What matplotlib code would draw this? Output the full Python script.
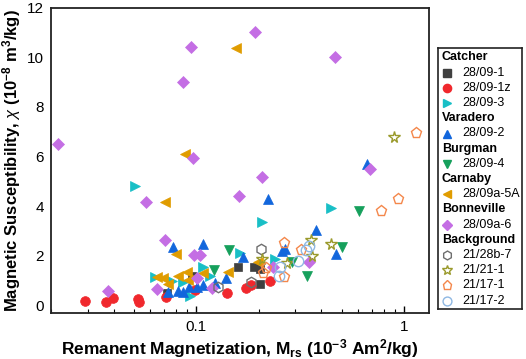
import numpy as np
import matplotlib
matplotlib.use("Agg")
import matplotlib.pyplot as plt
from matplotlib.ticker import LogLocator, NullFormatter, FixedLocator, FixedFormatter

plt.rcParams['font.family'] = ['Liberation Sans', 'DejaVu Sans']
plt.rcParams['mathtext.fontset'] = 'custom'
plt.rcParams['mathtext.rm'] = 'Liberation Sans'
plt.rcParams['mathtext.it'] = 'Liberation Sans:italic'
plt.rcParams['mathtext.bf'] = 'Liberation Sans:bold'

# Catcher
c1_x = [0.158, 0.190, 0.203, 0.203, 0.0957, 0.0725]
c1_y = [1.54, 1.54, 1.45, 0.85, 1.17, 0.48]
c1z_x = [0.0293, 0.0369, 0.0399, 0.0526, 0.0532, 0.0718, 0.0989, 0.141, 0.174, 0.184, 0.227]
c1z_y = [0.16, 0.12, 0.28, 0.24, 0.12, 0.32, 0.61, 0.48, 0.69, 0.81, 0.97]
c3_x = [0.0509, 0.207, 0.446, 0.163, 0.240, 0.0635, 0.108, 0.117, 0.0936, 0.0767, 0.0866]
c3_y = [4.81, 3.35, 3.92, 2.10, 1.86, 1.13, 1.54, 1.17, 0.36, 0.97, 0.93]
# Varadero
v_x = [0.66, 0.222, 0.377, 0.259, 0.268, 0.168, 0.47, 0.108, 0.139, 0.0775,
       0.0734, 0.0819, 0.0926, 0.108, 0.123, 0.086, 0.101]
v_y = [5.70, 4.28, 3.03, 2.18, 2.26, 1.94, 2.06, 2.46, 1.09, 2.34,
       0.53, 0.57, 0.73, 0.81, 0.89, 0.53, 0.73]
# Burgman
b_x = [0.144, 0.121, 0.289, 0.341, 0.503, 0.608]
b_y = [2.22, 1.41, 1.74, 1.17, 2.34, 3.80]
# Carnaby
cn_x = [0.156, 0.0885, 0.0710, 0.0801, 0.0650, 0.0694, 0.0734, 0.0819, 0.0905, 0.0915, 0.108, 0.142, 0.197]
cn_y = [10.38, 6.10, 4.16, 2.06, 1.13, 1.09, 0.85, 1.17, 1.33, 1.01, 1.29, 1.33, 1.74]
# Bonneville
bn_x = [0.0217, 0.0946, 0.0866, 0.192, 0.466, 0.0967, 0.0575, 0.161, 0.207, 0.687,
        0.0710, 0.0378, 0.0978, 0.1045, 0.0650, 0.119, 0.349, 0.234, 0.101]
bn_y = [6.50, 10.42, 9.00, 11.03, 10.02, 5.94, 4.16, 4.40, 5.17, 5.50,
        2.63, 0.57, 2.02, 2.02, 0.65, 0.69, 1.74, 1.54, 1.09]
# Background
g1_x = [0.127, 0.184, 0.205]
g1_y = [0.73, 0.93, 2.26]
g2_x = [0.895, 0.357, 0.446, 0.361, 0.207, 0.274]
g2_y = [6.79, 2.63, 2.46, 1.98, 1.86, 1.70]
g3_x = [1.14, 0.935, 0.776, 0.265, 0.32, 0.217, 0.21, 0.265]
g3_y = [6.95, 4.28, 3.80, 2.50, 2.22, 1.49, 1.29, 1.13]
g4_x = [0.338, 0.349, 0.309, 0.253, 0.250]
g4_y = [2.22, 2.38, 1.78, 1.54, 1.17]

series = [
    # header, label, x, y, marker, color, filled, size
    ('Catcher', None, None, None, None, None, None, None),
    (None, '28/09-1', c1_x, c1_y, 's', '#404040', True, 6),
    (None, '28/09-1z', c1z_x, c1z_y, 'o', '#f0282d', True, 7),
    (None, '28/09-3', c3_x, c3_y, '>', '#18bfc6', True, 7.5),
    ('Varadero', None, None, None, None, None, None, None),
    (None, '28/09-2', v_x, v_y, '^', '#1266dc', True, 7.5),
    ('Burgman', None, None, None, None, None, None, None),
    (None, '28/09-4', b_x, b_y, 'v', '#16a05c', True, 7.5),
    ('Carnaby', None, None, None, None, None, None, None),
    (None, '28/09a-5A', cn_x, cn_y, '<', '#e09c00', True, 7.5),
    ('Bonneville', None, None, None, None, None, None, None),
    (None, '28/09a-6', bn_x, bn_y, 'D', '#c46ee4', True, 6),
    ('Background', None, None, None, None, None, None, None),
    (None, '21/28b-7', g1_x, g1_y, 'h', '#6e6e6e', False, 7.5),
    (None, '21/21-1', g2_x, g2_y, '*', '#9a9a2c', False, 8.5),
    (None, '21/17-1', g3_x, g3_y, 'p', '#f4874b', False, 8),
    (None, '21/17-2', g4_x, g4_y, 'o', '#8fb8e3', False, 7.5),
]

fig = plt.figure(figsize=(5.26, 3.59), dpi=100)
ax = fig.add_axes([0.097, 0.128, 0.719, 0.850])

for head, lab, xs, ys, mk, col, filled, ms in series:
    if head is not None:
        continue
    if filled:
        ax.plot(xs, ys, linestyle='none', marker=mk, ms=ms, color=col, mec=col, mew=0.5)
    else:
        ax.plot(xs, ys, linestyle='none', marker=mk, ms=ms, mfc='none', mec=col, mew=1.0)

ax.set_xscale('log')
ax.set_xlim(0.02, 1.32)
ax.set_ylim(-0.32, 12)
ax.xaxis.set_major_locator(FixedLocator([0.1, 1]))
ax.xaxis.set_major_formatter(FixedFormatter(['0.1', '1']))
ax.xaxis.set_minor_locator(LogLocator(base=10, subs=np.arange(2, 10)))
ax.xaxis.set_minor_formatter(NullFormatter())
ax.set_yticks([0, 2, 4, 6, 8, 10, 12])
ax.tick_params(axis='x', which='major', direction='in', length=5, width=1, labelsize=11, pad=5)
ax.tick_params(axis='x', which='minor', direction='in', length=3, width=0.8)
ax.tick_params(axis='y', length=0, labelsize=11, pad=5)
for s in ax.spines.values():
    s.set_linewidth(1.3)
    s.set_color('#222222')

ax.set_xlabel(r'Remanent Magnetization, M$_{\mathbf{rs}}$ (10$^{\mathbf{-3}}$ Am$^{\mathbf{2}}$/kg)',
              fontsize=12.5, fontweight='bold', labelpad=2)
ax.set_ylabel(r'Magnetic Susceptibility, $\chi$ (10$^{\mathbf{-8}}$ m$^{\mathbf{3}}$/kg)',
              fontsize=12, fontweight='bold', labelpad=3)

# legend panel
lax = fig.add_axes([438 / 526, 1 - 309 / 359, 84 / 526, 261 / 359])
lax.set_xlim(0, 84)
lax.set_ylim(261, 0)
lax.set_xticks([])
lax.set_yticks([])
for s in lax.spines.values():
    s.set_linewidth(1.2)
    s.set_color('#222222')

row_y = 9.5
for head, lab, xs, ys, mk, col, filled, ms in series:
    if head is not None:
        lax.text(4, row_y, head, fontsize=9, fontweight='bold', va='center', ha='left')
    else:
        if filled:
            lax.plot([9], [row_y], marker=mk, ms=ms * 0.85, color=col, mec=col, linestyle='none')
        else:
            lax.plot([9], [row_y], marker=mk, ms=ms * 0.85, mfc='none', mec=col, mew=1.0, linestyle='none')
        lax.text(24, row_y, lab, fontsize=9, va='center', ha='left')
    row_y += 15.2

fig.savefig('out.png', dpi=100)
